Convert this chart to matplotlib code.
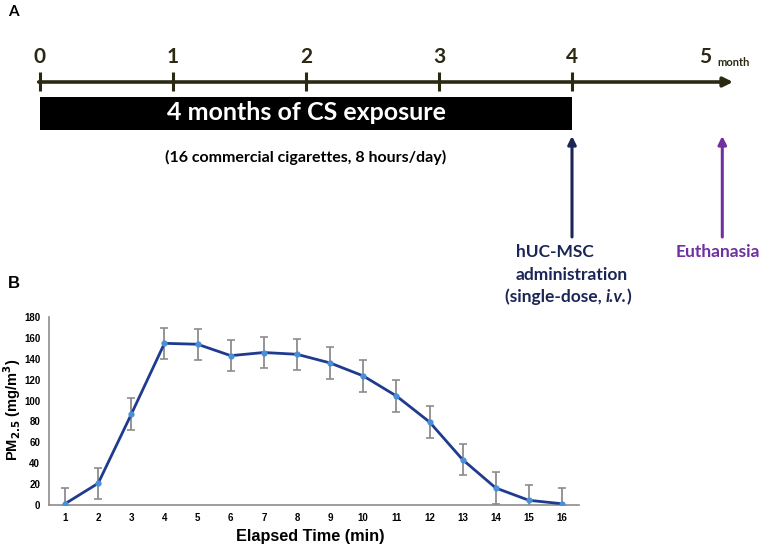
import matplotlib
matplotlib.use("Agg")
import matplotlib.pyplot as plt
import numpy as np

# ---- Data ----
months = [0, 1, 2, 3, 4, 5]
exposure_start, exposure_end = 0, 4
treatment_month = 4
euthanasia_month = 5.13

minutes = list(range(1, 17))
pm25 = [1.2, 20.8, 87, 154.8, 153.9, 143, 146, 144.3, 136, 123.6, 104.4, 79.5, 43.4, 16.3, 4.5, 1.2]
pm25_err = [15, 15, 15, 15, 15, 15, 15, 15, 15, 15, 15, 15, 15, 15, 15, 15]
y_ticks = [0, 20, 40, 60, 80, 100, 120, 140, 160, 180]

W, H = 765, 548
fig = plt.figure(figsize=(W / 100, H / 100), dpi=100)

# ---- Panel A: timeline (x in months, y in pixels) ----
px_per_month = 133.0
x0_px = 40.0
axA = fig.add_axes([0, 0, 1, 1])
axA.set_xlim(-x0_px / px_per_month, (W - x0_px) / px_per_month)
axA.set_ylim(H, 0)
axA.axis("off")

def px2m(px):
    return (px - x0_px) / px_per_month

tl_col = "#2b2912"
cal = ["Lato", "DejaVu Sans"]
line_y = 82
axA.annotate("", xy=(px2m(733), line_y), xytext=(months[0] - 0.01, line_y),
             arrowprops=dict(arrowstyle="-|>", color=tl_col, lw=2.6,
                             mutation_scale=14, shrinkA=0, shrinkB=0))
for m in months[:-1]:
    axA.plot([m, m], [72, 91], color=tl_col, lw=2.2, solid_capstyle="butt")
for m in months:
    axA.text(m, 57, str(m), ha="center", va="center", fontsize=15,
             color=tl_col, family=cal, fontweight="bold")
axA.text(months[-1] + 0.09, 62, "month", ha="left", va="center", fontsize=8,
         color=tl_col, family=cal, fontweight="bold")

axA.fill_between([exposure_start, exposure_end], 97, 130, color="black", lw=0)
axA.text((exposure_start + exposure_end) / 2, 113, "4 months of CS exposure",
         ha="center", va="center", fontsize=18, color="white", family=cal,
         fontweight="bold")
axA.text((exposure_start + exposure_end) / 2, 157,
         "(16 commercial cigarettes, 8 hours/day)", ha="center", va="center",
         fontsize=11.5, color="black", family=cal, fontweight="bold")

navy = "#1b2556"
purple = "#7030a0"
axA.annotate("", xy=(treatment_month, 136), xytext=(treatment_month, 237),
             arrowprops=dict(arrowstyle="-|>", color=navy, lw=2.2,
                             mutation_scale=12, shrinkA=0, shrinkB=0))
axA.annotate("", xy=(euthanasia_month, 136), xytext=(euthanasia_month, 237),
             arrowprops=dict(arrowstyle="-|>", color=purple, lw=2.2,
                             mutation_scale=12, shrinkA=0, shrinkB=0))
axA.text(px2m(516), 252, "hUC-MSC", ha="left", va="center",
         fontsize=12.5, color=navy, family=cal, fontweight="bold")
axA.text(px2m(516), 275, "administration", ha="left", va="center",
         fontsize=12.5, color=navy, family=cal, fontweight="bold")
t1 = axA.text(px2m(505), 297, "(single-dose, ", ha="left", va="center",
              fontsize=12.5, color=navy, family=cal, fontweight="bold")
t2 = axA.annotate("i.v.", xy=(1, 0), xycoords=t1, ha="left", va="bottom",
                  fontsize=12.5, color=navy, family=cal, fontweight="bold",
                  fontstyle="italic")
axA.annotate(")", xy=(1, 0), xycoords=t2, xytext=(-0.5, 0),
             textcoords="offset points", ha="left", va="bottom",
             fontsize=12.5, color=navy, family=cal, fontweight="bold")
axA.text(px2m(718), 252, "Euthanasia", ha="center", va="center",
         fontsize=12.5, color=purple, family=cal, fontweight="bold")

fig.text(8 / W, 1 - 12 / H, "A", ha="left", va="center", fontsize=11,
         fontweight="bold", family=cal)
fig.text(8 / W, 1 - 283 / H, "B", ha="left", va="center", fontsize=12,
         fontweight="bold", family=["Liberation Sans", "DejaVu Sans"])

# ---- Panel B: PM2.5 line chart ----
arial = ["Liberation Sans", "DejaVu Sans"]
left, right = 48.5, 578.6
bottom, top = 505, 317
axB = fig.add_axes([left / W, 1 - bottom / H, (right - left) / W, (bottom - top) / H])
axB.set_xlim(0.5, 16.5)
axB.set_ylim(0, 180)
axB.errorbar(minutes, pm25, yerr=pm25_err, fmt="none", ecolor="#8c8c8c",
             elinewidth=1.3, capsize=3, capthick=1.2, zorder=2)
axB.plot(minutes, pm25, color="#1f3b8f", lw=2, zorder=3)
axB.plot(minutes, pm25, "o", color="#4a90d9", ms=4.5, mec="none", zorder=4)
axB.set_xticks(minutes)
axB.set_xticklabels([str(m) for m in minutes])
axB.set_yticks(y_ticks)
for lab in axB.get_xticklabels() + axB.get_yticklabels():
    lab.set_fontsize(7)
    lab.set_fontweight("bold")
    lab.set_family(arial)
axB.tick_params(length=0, pad=6)
for s in ["top", "right"]:
    axB.spines[s].set_visible(False)
for s in ["left", "bottom"]:
    axB.spines[s].set_color("#8c8c8c")
    axB.spines[s].set_linewidth(1.2)
axB.set_xlabel("Elapsed Time (min)", fontsize=11.7, fontweight="bold",
               family=arial)
axB.xaxis.set_label_coords((310 - left) / (right - left), (bottom - 537) / (bottom - top))
axB.xaxis.label.set_va("center")
axB.set_ylabel(r"PM$_{\mathbf{2.5}}$ (mg/m$^{\mathbf{3}}$)", fontsize=10.5,
               fontweight="bold", family=arial)
axB.yaxis.set_label_coords((12 - left) / (right - left), (bottom - 410) / (bottom - top))
axB.yaxis.label.set_va("center")

fig.savefig("out.png", dpi=100)
